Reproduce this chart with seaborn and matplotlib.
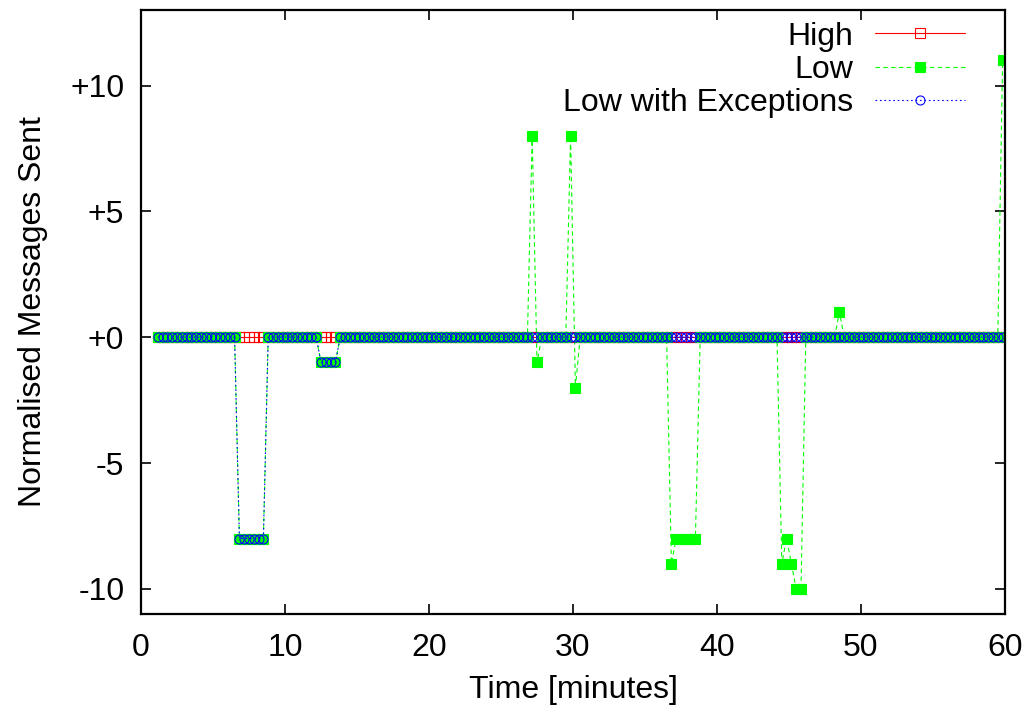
import numpy as np
import pandas as pd
import matplotlib
matplotlib.use("Agg")
import matplotlib.pyplot as plt
import seaborn as sns

# ---- data ----
start_s = 70          # first sample, seconds
step_s = 20           # sampling interval, seconds
n_samples = 177
time_min = [(start_s + step_s * i) / 60 for i in range(n_samples)]

high = [0] * 177

low = ([0] * 17 + [-8] * 6 + [0] * 11 + [-1] * 4 + [0] * 40 +
       [8, -1] + [0] * 6 + [8, -2] + [0] * 19 +
       [-9] + [-8] * 5 + [0] * 17 +
       [-9, -8, -9, -10, -10] + [0] * 7 + [1] + [0] * 33 + [11])

low_exc = [0] * 17 + [-8] * 6 + [0] * 11 + [-1] * 4 + [0] * 139

series_names = ["High", "Low", "Low with Exceptions"]
xticks = [0, 10, 20, 30, 40, 50, 60]
yticks = [-10, -5, 0, 5, 10]
ytick_labels = ["-10", "-5", "+0", "+5", "+10"]

df = pd.DataFrame({"t": time_min, "High": high, "Low": low,
                   "Low with Exceptions": low_exc})

# ---- styling ----
sns.set_style("ticks")
plt.rcParams["font.family"] = ["Liberation Sans", "DejaVu Sans"]
plt.rcParams["text.color"] = "black"
plt.rcParams["axes.labelcolor"] = "black"
FS = 23

fig = plt.figure(figsize=(10.29, 7.13), dpi=100)
ax = fig.add_axes([141 / 1029, 1 - 614 / 713, 864 / 1029, 604 / 713])

styles = {
    "High": dict(color="#ff0000", linestyle="-", marker="s", markersize=6.8,
                 markerfacecolor="none", markeredgecolor="#ff0000",
                 markeredgewidth=0.8),
    "Low": dict(color="#00ff00", linestyle=(0, (4, 3)), marker="s", markersize=6.8,
                markerfacecolor="#00ff00", markeredgecolor="#00ff00",
                markeredgewidth=0.8),
    "Low with Exceptions": dict(color="#0000ff", linestyle=(0, (1.5, 2.5)),
                                marker="o", markersize=6.5,
                                markerfacecolor="none", markeredgecolor="#0000ff",
                                markeredgewidth=0.8),
}

for name in series_names:
    sns.lineplot(data=df, x="t", y=name, ax=ax, label=name, linewidth=0.8,
                 **styles[name])

ax.set_xlim(0, 60)
ax.set_ylim(-11, 13)
ax.set_xticks(xticks)
ax.set_yticks(yticks)
ax.set_yticklabels(ytick_labels)
ax.tick_params(direction="in", length=7, width=1.2, top=True, right=True,
               labelsize=FS, colors="black")
ax.tick_params(axis="x", pad=14)
ax.tick_params(axis="y", pad=12)
for s in ax.spines.values():
    s.set_visible(True)
    s.set_linewidth(1.6)
    s.set_color("black")

ax.set_xlabel("Time [minutes]", fontsize=FS, labelpad=8, color="black")
ax.set_ylabel("Normalised Messages Sent", fontsize=FS, labelpad=16, color="black")

leg = ax.legend(loc="upper right", bbox_to_anchor=(0.957, 0.986),
                frameon=False, markerfirst=False, fontsize=FS,
                handlelength=2.8, handletextpad=0.7, labelspacing=0.1,
                borderpad=0.1, borderaxespad=0.0, numpoints=1)
for txt in leg.get_texts():
    txt.set_color("black")

fig.savefig("out.png", dpi=100)
